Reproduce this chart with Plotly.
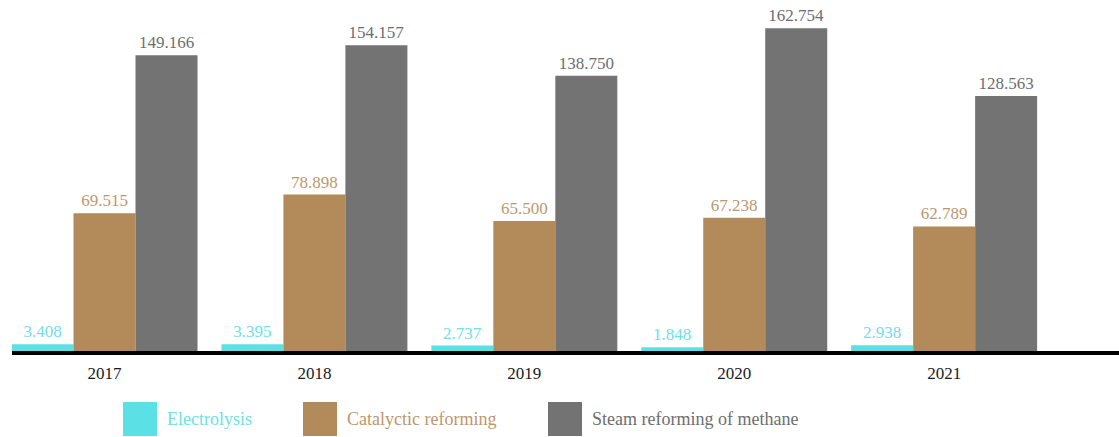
import plotly.graph_objects as go

years = ["2017", "2018", "2019", "2020", "2021"]
series_names = ["Electrolysis", "Catalyctic reforming", "Steam reforming of methane"]
electrolysis = [3.408, 3.395, 2.737, 1.848, 2.938]
catalytic = [69.515, 78.898, 65.500, 67.238, 62.789]
steam = [149.166, 154.157, 138.750, 162.754, 128.563]

bar_colors = ["#5BE0E6", "#B38A5A", "#737373"]
text_colors = ["#6FE0E4", "#BE976D", "#6E6E6E"]
FONT = "Liberation Serif, Times New Roman, serif"

W, H = 1119, 437
ML, MR, MT, MB = 12, 0, 0, 86
PW, PH = W - ML - MR, H - MT - MB

fig = go.Figure()
for name, vals, c, tc in zip(series_names, [electrolysis, catalytic, steam], bar_colors, text_colors):
    fig.add_trace(go.Bar(
        x=years, y=vals, name=name, marker_color=c, marker_line_width=0,
        texttemplate="%{y:.3f}", textposition="outside", cliponaxis=False,
        textfont=dict(family=FONT, size=17, color=tc),
        showlegend=False,
    ))

# custom legend with large square swatches
def px_to_paper(px, py):
    return (px - ML) / PW, (H - MB - py) / PH

legend_x = [123, 303, 548]
sw = 34
for name, c, tc, lx in zip(series_names, bar_colors, text_colors, legend_x):
    x0, y0 = px_to_paper(lx, 402)
    x1, y1 = px_to_paper(lx + sw, 436)
    fig.add_shape(type="rect", xref="paper", yref="paper", x0=x0, x1=x1, y0=y1, y1=y0,
                  fillcolor=c, line_width=0)
    tx, ty = px_to_paper(lx + sw + 8, 419)
    fig.add_annotation(xref="paper", yref="paper", x=tx, y=ty, text=name, showarrow=False,
                       xanchor="left", yanchor="middle",
                       font=dict(family=FONT, size=18, color=tc))

fig.update_layout(
    width=W, height=H,
    margin=dict(l=ML, r=MR, t=MT, b=MB),
    paper_bgcolor="white", plot_bgcolor="white",
    font=dict(family=FONT),
    barmode="group", bargap=0.114, bargroupgap=0,
    xaxis=dict(type="category", range=[-0.4407, 4.833], showline=True, linecolor="black",
               linewidth=4, ticks="", showgrid=False, ticklabelstandoff=4,
               tickfont=dict(family=FONT, size=17, color="#1a1a1a")),
    yaxis=dict(visible=False, range=[0, 177], showgrid=False, zeroline=False),
)

fig.write_html("out.html")
